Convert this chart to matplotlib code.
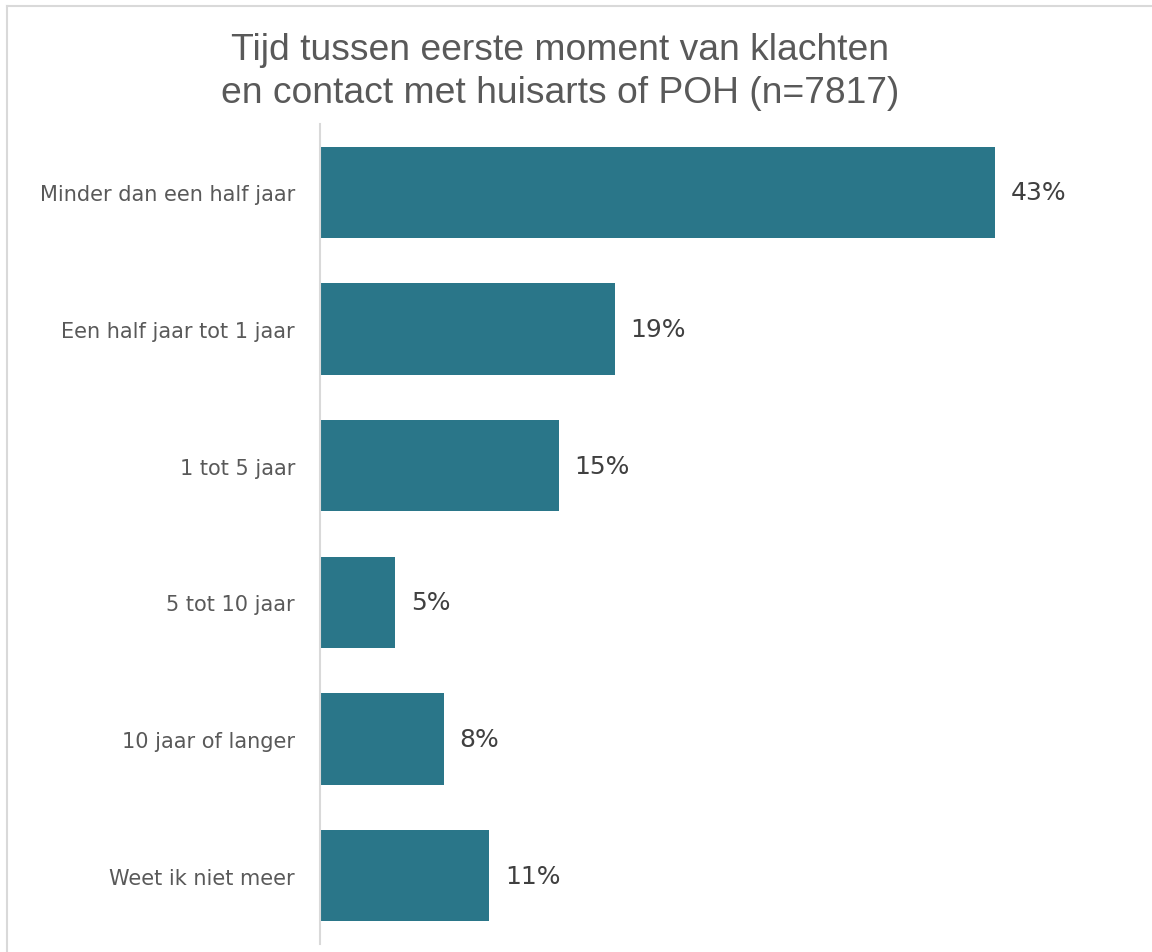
import matplotlib.pyplot as plt
from matplotlib.lines import Line2D

categorieen = ["Minder dan een half jaar", "Een half jaar tot 1 jaar", "1 tot 5 jaar",
               "5 tot 10 jaar", "10 jaar of langer", "Weet ik niet meer"]
percentages = [43.0, 18.8, 15.2, 4.8, 7.9, 10.8]
titel = "Tijd tussen eerste moment van klachten\nen contact met huisarts of POH (n=7817)"

kleur_balk = "#2A7689"
kleur_tekst = "#595959"

fig = plt.figure(figsize=(11.52, 9.53), dpi=100)
ax = fig.add_axes([320 / 1152, 8 / 953, 820 / 1152, 820 / 953])

posities = list(range(len(categorieen)))
ax.barh(posities, percentages, height=0.667, color=kleur_balk)
ax.set_ylim(len(categorieen) - 0.5, -0.5)
ax.set_xlim(0, 52.25)

for p, v in zip(posities, percentages):
    ax.text(v + 1.0, p, f"{v:.0f}%", va="center", ha="left", fontsize=18,
            color="#404040", family="DejaVu Sans")

ax.set_yticks(posities)
ax.set_yticklabels(categorieen, fontsize=15, color=kleur_tekst, family="DejaVu Sans")
ax.tick_params(axis="y", length=0, pad=18)
ax.set_xticks([])
for s in ["top", "right", "bottom"]:
    ax.spines[s].set_visible(False)
ax.spines["left"].set_color("#D9D9D9")
ax.spines["left"].set_linewidth(1.5)

fig.text(0.5 - 16 / 1152, 1 - 72 / 953, titel, ha="center", va="center", fontsize=26.8,
         color=kleur_tekst, family="Liberation Sans", linespacing=1.32)

# rand van de grafiek
fig.add_artist(Line2D([7 / 1152, 7 / 1152], [0, 1 - 7 / 953], color="#D9D9D9", lw=1.5))
fig.add_artist(Line2D([7 / 1152, 1], [1 - 7 / 953, 1 - 7 / 953], color="#D9D9D9", lw=1.5))

fig.savefig("out.png", dpi=100)
